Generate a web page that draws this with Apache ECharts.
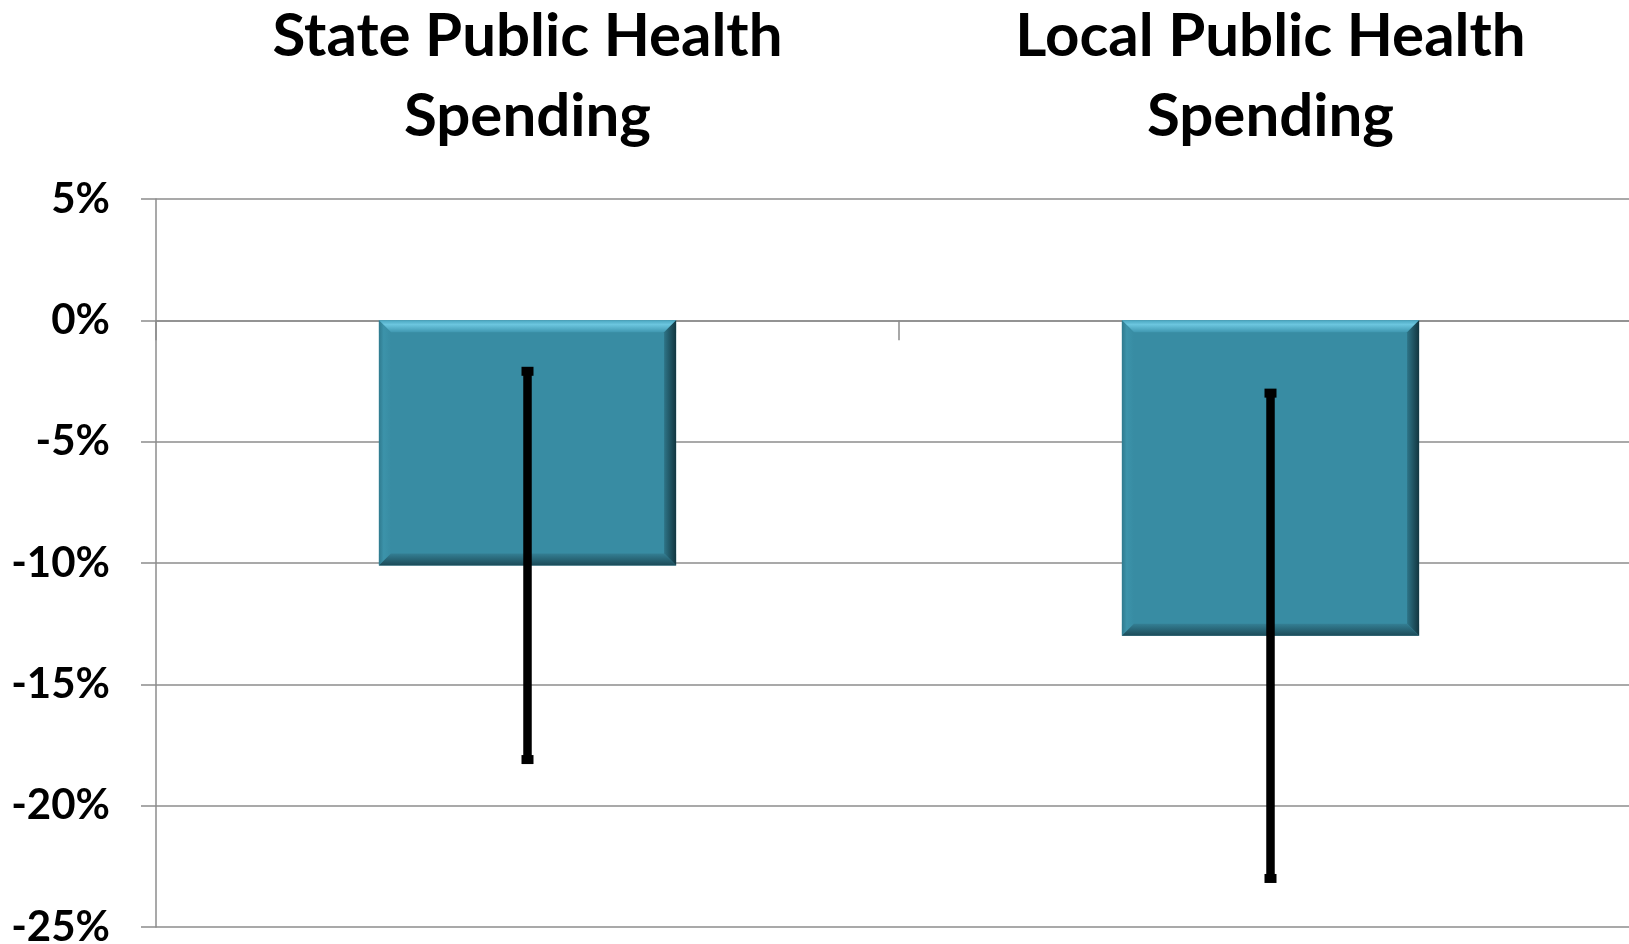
<!DOCTYPE html>
<html>
<head>
<meta charset="utf-8">
<script src="https://cdn.jsdelivr.net/npm/echarts@6/dist/echarts.min.js"></script>
<style>
html,body{margin:0;padding:0;background:#fff;}
#chart{width:1629px;height:944px;}
</style>
</head>
<body>
<div id="chart"></div>
<script>
const categories = ['State Public Health Spending', 'Local Public Health Spending'];
const changeValues = [-10.1, -13.0];
const errorLow = [-18.1, -23.0];
const errorHigh = [-2.1, -3.0];
const yMin = -25, yMax = 5, yInterval = 5;

const chart = echarts.init(document.getElementById('chart'));
const gridColor = '#8c8c8c';
const FONT = 'Lato';

function renderBevelBar(params, api) {
  const idx = api.value(0);
  const val = api.value(1);
  const p0 = api.coord([idx, 0]);
  const p1 = api.coord([idx, val]);
  const w = api.size([1, 0])[0] * 0.4;
  const l = p0[0] - w / 2, r = p0[0] + w / 2;
  const t = Math.min(p0[1], p1[1]), b = Math.max(p0[1], p1[1]);
  const e = 12;
  const LG = echarts.graphic.LinearGradient;
  return {
    type: 'group',
    children: [
      { type: 'rect', shape: { x: l, y: t, width: w, height: b - t }, style: { fill: '#388ca3' } },
      { type: 'polygon', shape: { points: [[l, t], [r, t], [r - e, t + e], [l + e, t + e]] },
        style: { fill: new LG(0, 0, 0, 1, [{ offset: 0, color: '#4aa6c0' }, { offset: 0.35, color: '#6cc6df' }, { offset: 1, color: '#3f97b0' }]) } },
      { type: 'polygon', shape: { points: [[l, t], [l + e, t + e], [l + e, b - e], [l, b]] },
        style: { fill: new LG(0, 0, 1, 0, [{ offset: 0, color: '#2f7a8e' }, { offset: 0.4, color: '#3c93aa' }, { offset: 1, color: '#388ca3' }]) } },
      { type: 'polygon', shape: { points: [[r, t], [r, b], [r - e, b - e], [r - e, t + e]] },
        style: { fill: new LG(0, 0, 1, 0, [{ offset: 0, color: '#2e7487' }, { offset: 1, color: '#123640' }]) } },
      { type: 'polygon', shape: { points: [[l, b], [r, b], [r - e, b - e], [l + e, b - e]] },
        style: { fill: new LG(0, 0, 0, 1, [{ offset: 0, color: '#347f94' }, { offset: 1, color: '#1c4b58' }]) } }
    ]
  };
}

function renderErrorBar(params, api) {
  const idx = api.value(0);
  const lo = api.coord([idx, api.value(1)]);
  const hi = api.coord([idx, api.value(2)]);
  const cw = 12, ch = 9;
  return {
    type: 'group',
    children: [
      { type: 'line', shape: { x1: hi[0], y1: hi[1], x2: lo[0], y2: lo[1] }, style: { stroke: '#000', lineWidth: 8.5 } },
      { type: 'rect', shape: { x: hi[0] - cw / 2, y: hi[1] - ch / 2, width: cw, height: ch }, style: { fill: '#000' } },
      { type: 'rect', shape: { x: lo[0] - cw / 2, y: lo[1] - ch / 2, width: cw, height: ch }, style: { fill: '#000' } }
    ]
  };
}

const option = {
  animation: false,
  backgroundColor: '#ffffff',
  grid: { left: 156, top: 199, width: 1486, height: 728, outerBoundsMode: 'none', containLabel: false },
  xAxis: [
    {
      type: 'category', data: categories, position: 'bottom',
      axisLine: { show: true, onZero: true, lineStyle: { color: gridColor, width: 1.5 } },
      axisTick: { show: true, length: 20, lineStyle: { color: gridColor, width: 1.5 } },
      axisLabel: { show: false },
      splitLine: { show: false }
    },
    {
      type: 'category', data: categories, position: 'top',
      axisLine: { show: false }, axisTick: { show: false },
      axisLabel: {
        show: true, interval: 0, margin: 42,
        fontFamily: FONT, fontWeight: 'bold', fontSize: 60, lineHeight: 80, color: '#000',
        formatter: function (v) { const i = v.lastIndexOf(' '); return v.slice(0, i) + '\n' + v.slice(i + 1); }
      }
    }
  ],
  yAxis: {
    type: 'value', min: yMin, max: yMax, interval: yInterval,
    axisLine: { show: true, lineStyle: { color: gridColor, width: 1.5 } },
    axisTick: { show: true, length: 15, lineStyle: { color: gridColor, width: 1.5 } },
    splitLine: { show: true, lineStyle: { color: gridColor, width: 1.5 } },
    axisLabel: { formatter: '{value}%', fontFamily: FONT, fontWeight: 'bold', fontSize: 42, color: '#000', margin: 46 }
  },
  series: [
    {
      type: 'custom', name: 'Change', xAxisIndex: 0,
      renderItem: renderBevelBar,
      encode: { x: 0, y: 1 },
      data: changeValues.map((v, i) => [i, v]),
      z: 2
    },
    {
      type: 'custom', name: 'Error', xAxisIndex: 0,
      renderItem: renderErrorBar,
      encode: { x: 0, y: [1, 2] },
      data: errorLow.map((v, i) => [i, v, errorHigh[i]]),
      z: 3
    }
  ]
};
chart.setOption(option);
</script>
</body>
</html>
